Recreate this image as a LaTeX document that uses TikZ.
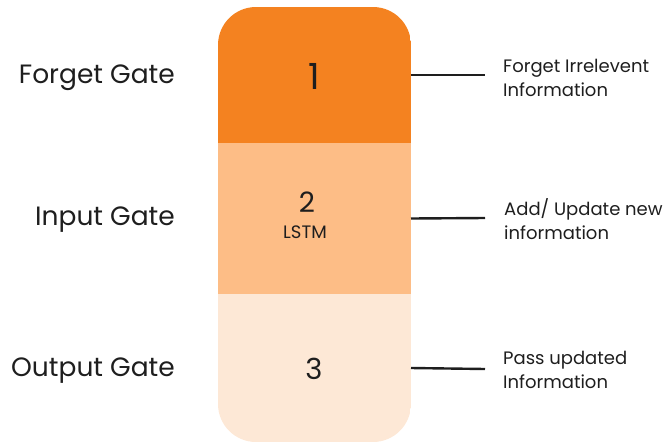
\documentclass[tikz,border=0pt]{standalone}
\usepackage{fontspec}
\setmainfont{Poppins}
\definecolor{gateA}{RGB}{244,130,32}
\definecolor{gateB}{RGB}{253,189,134}
\definecolor{gateC}{RGB}{253,232,214}
\definecolor{ink}{RGB}{30,30,30}
\tikzset{
  section/.style={inner sep=0pt, outer sep=0pt, minimum width=193pt, text=ink},
  gatelabel/.style={inner sep=0pt, anchor=base east, text=ink, font=\fontsize{26.5}{30}\selectfont},
  note/.style={inner sep=0pt, anchor=base west, align=left, text=ink, font=\fontsize{18}{24}\selectfont},
  numtext/.style={inner sep=0pt, text=ink, anchor=base},
  tie/.style={line width=2.4pt, draw=ink}
}
\begin{document}
\begin{tikzpicture}[x=1pt,y=-1pt]
  \useasboundingbox (0,0) rectangle (667,445);
  % column of three gates, rounded at top and bottom
  \begin{scope}
    \clip[rounded corners=38pt] (218,7) rectangle (411,442);
    \node[section, fill=gateA, minimum height=136pt] (g1) at (314.5,75) {};
    \node[section, fill=gateB, minimum height=151pt] (g2) at (314.5,218.5) {};
    \node[section, fill=gateC, minimum height=148pt] (g3) at (314.5,368) {};
  \end{scope}
  % numbers inside the column
  \node[numtext, font=\fontsize{36}{40}\selectfont] (n1) at (314,89) {1};
  \node[numtext, font=\fontsize{28}{32}\selectfont] (n2) at (307,212) {2};
  \node[numtext, font=\fontsize{18}{22}\selectfont] (lstm) at (305,238) {LSTM};
  \node[numtext, font=\fontsize{29}{32}\selectfont] (n3) at (314,379) {3};
  % gate names
  \node[gatelabel] (l1) at (175,83) {Forget Gate};
  \node[gatelabel] (l2) at (175,225) {Input Gate};
  \node[gatelabel] (l3) at (175,376) {Output Gate};
  % connectors and notes
  \coordinate (e1) at (485,75);
  \coordinate (e2) at (485,218);
  \coordinate (e3) at (485,369);
  \draw[tie] (g1.east) -- (e1);
  \draw[tie] (g2.east) -- (e2);
  \draw[tie] (g3.east) -- (e3);
  \node[note] (t1) at (503,96) {Forget Irrelevent\\Information};
  \node[note] (t2) at (504,239) {Add/ Update new\\information};
  \node[note] (t3) at (503,388) {Pass updated\\Information};
\end{tikzpicture}
\end{document}
